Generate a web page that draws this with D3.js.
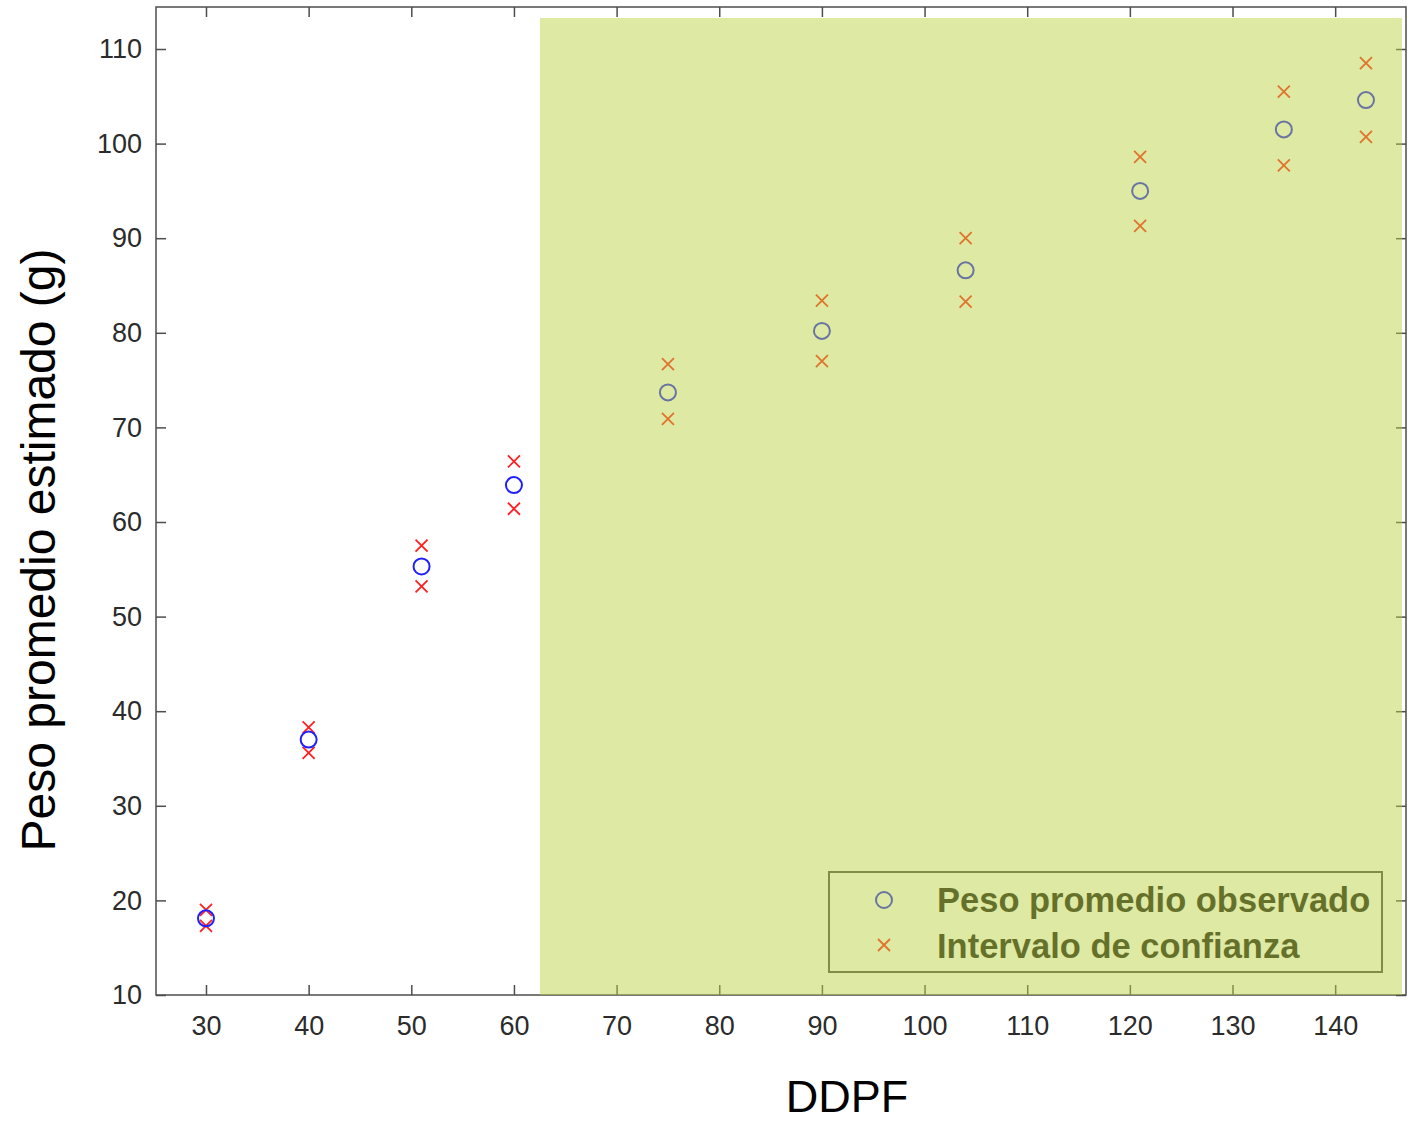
<!DOCTYPE html>
<html>
<head>
<meta charset="utf-8">
<script src="https://cdn.jsdelivr.net/npm/d3@7"></script>
<style>
  body { margin: 0; background: #fff; }
  text { font-family: "Liberation Sans", Arial, sans-serif; }
</style>
</head>
<body>
<svg id="svg1"></svg>
<script>
// data
const ddpf = [30, 40, 51, 60, 75, 90, 104, 121, 135, 143];
const pesoObservado = [18.1, 37.0, 55.3, 63.9, 73.7, 80.2, 86.6, 95.0, 101.5, 104.6];
const limiteSuperior = [19.0, 38.3, 57.5, 66.4, 76.7, 83.4, 90.0, 98.6, 105.5, 108.5];
const limiteInferior = [17.3, 35.6, 53.2, 61.4, 70.9, 77.0, 83.3, 91.3, 97.7, 100.7];
const xTicks = [30, 40, 50, 60, 70, 80, 90, 100, 110, 120, 130, 140];
const yTicks = [10, 20, 30, 40, 50, 60, 70, 80, 90, 100, 110];
const legendLabels = ["Peso promedio observado", "Intervalo de confianza"];

// layout
const W = 1416, H = 1124;
const plot = {left: 156, right: 1406, top: 7, bottom: 995};

const svg = d3.select('#svg1').attr('width', W).attr('height', H);

const x = d3.scaleLinear().domain([25.13, 146.9]).range([plot.left, plot.right]);
const y = d3.scaleLinear().domain([10, 114.44]).range([plot.bottom, plot.top]);

const tickLen = 10;
const axisColor = '#4d4d4d';

// axes: ticks point inward, mirrored on top and right
svg.append('g')
    .attr('transform', 'translate(0,' + plot.bottom + ')')
    .call(d3.axisBottom(x).tickValues(xTicks).tickSizeInner(-tickLen).tickSizeOuter(0).tickPadding(21))
    .call(g => g.select('.domain').remove());
svg.append('g')
    .attr('transform', 'translate(0,' + plot.top + ')')
    .call(d3.axisTop(x).tickValues(xTicks).tickSizeInner(-tickLen).tickSizeOuter(0).tickFormat(''))
    .call(g => g.select('.domain').remove());
svg.append('g')
    .attr('transform', 'translate(' + plot.left + ',0)')
    .call(d3.axisLeft(y).tickValues(yTicks).tickSizeInner(-tickLen).tickSizeOuter(0).tickPadding(14))
    .call(g => g.select('.domain').remove());
svg.append('g')
    .attr('transform', 'translate(' + plot.right + ',0)')
    .call(d3.axisRight(y).tickValues(yTicks).tickSizeInner(-tickLen).tickSizeOuter(0).tickFormat(''))
    .call(g => g.select('.domain').remove());

svg.selectAll('.tick line').attr('stroke', axisColor).attr('stroke-width', 1.5);
svg.selectAll('.tick text')
    .attr('fill', '#2b2b2b')
    .style('font-size', '27px')
    .style('font-family', '"Liberation Sans", Arial, sans-serif');

// plot frame
svg.append('rect')
    .attr('x', plot.left).attr('y', plot.top)
    .attr('width', plot.right - plot.left).attr('height', plot.bottom - plot.top)
    .attr('fill', 'none').attr('stroke', axisColor).attr('stroke-width', 1.5);

// confidence interval crosses
const crossSize = 6;
const crosses = [];
ddpf.forEach((d, i) => {
  crosses.push({x: d, y: limiteSuperior[i]});
  crosses.push({x: d, y: limiteInferior[i]});
});
svg.append('g').selectAll('path')
    .data(crosses)
    .enter()
    .append('path')
    .attr('d', d => {
      const cx = x(d.x), cy = y(d.y), s = crossSize;
      return 'M' + (cx - s) + ',' + (cy - s) + 'L' + (cx + s) + ',' + (cy + s) +
             'M' + (cx - s) + ',' + (cy + s) + 'L' + (cx + s) + ',' + (cy - s);
    })
    .attr('stroke', '#ff2020')
    .attr('stroke-width', 1.8)
    .attr('fill', 'none');

// observed mean circles
svg.append('g').selectAll('circle')
    .data(ddpf)
    .enter()
    .append('circle')
    .attr('cx', d => x(d))
    .attr('cy', (d, i) => y(pesoObservado[i]))
    .attr('r', 8)
    .attr('fill', 'none')
    .attr('stroke', '#2020ff')
    .attr('stroke-width', 2);

// legend
const legend = svg.append('g');
legend.append('rect')
    .attr('x', 829).attr('y', 872).attr('width', 553).attr('height', 100)
    .attr('fill', 'none').attr('stroke', '#4d4d4d').attr('stroke-width', 2);
legend.append('circle')
    .attr('cx', 884).attr('cy', 900).attr('r', 8)
    .attr('fill', 'none').attr('stroke', '#2020ff').attr('stroke-width', 2);
legend.append('path')
    .attr('d', 'M878,939L890,951M878,951L890,939')
    .attr('stroke', '#ff2020').attr('stroke-width', 1.8);
legend.selectAll('text')
    .data(legendLabels)
    .enter()
    .append('text')
    .attr('x', 937)
    .attr('y', (d, i) => 912 + i * 46)
    .attr('fill', '#181818')
    .style('font-size', '34.5px')
    .style('font-weight', 'bold')
    .text(d => d);

// semi-transparent highlight over the right part of the plot
svg.append('rect')
    .attr('x', 540).attr('y', 18)
    .attr('width', 1402 - 540).attr('height', plot.bottom - 18)
    .attr('fill', 'rgb(187,208,62)')
    .attr('fill-opacity', 0.48);

// axis titles
svg.append('text')
    .attr('x', 847).attr('y', 1112)
    .attr('text-anchor', 'middle')
    .style('font-size', '45px')
    .text('DDPF');
svg.append('text')
    .attr('transform', 'translate(55,550) rotate(-90)')
    .attr('text-anchor', 'middle')
    .style('font-size', '48px')
    .text('Peso promedio estimado (g)');
</script>
</body>
</html>
